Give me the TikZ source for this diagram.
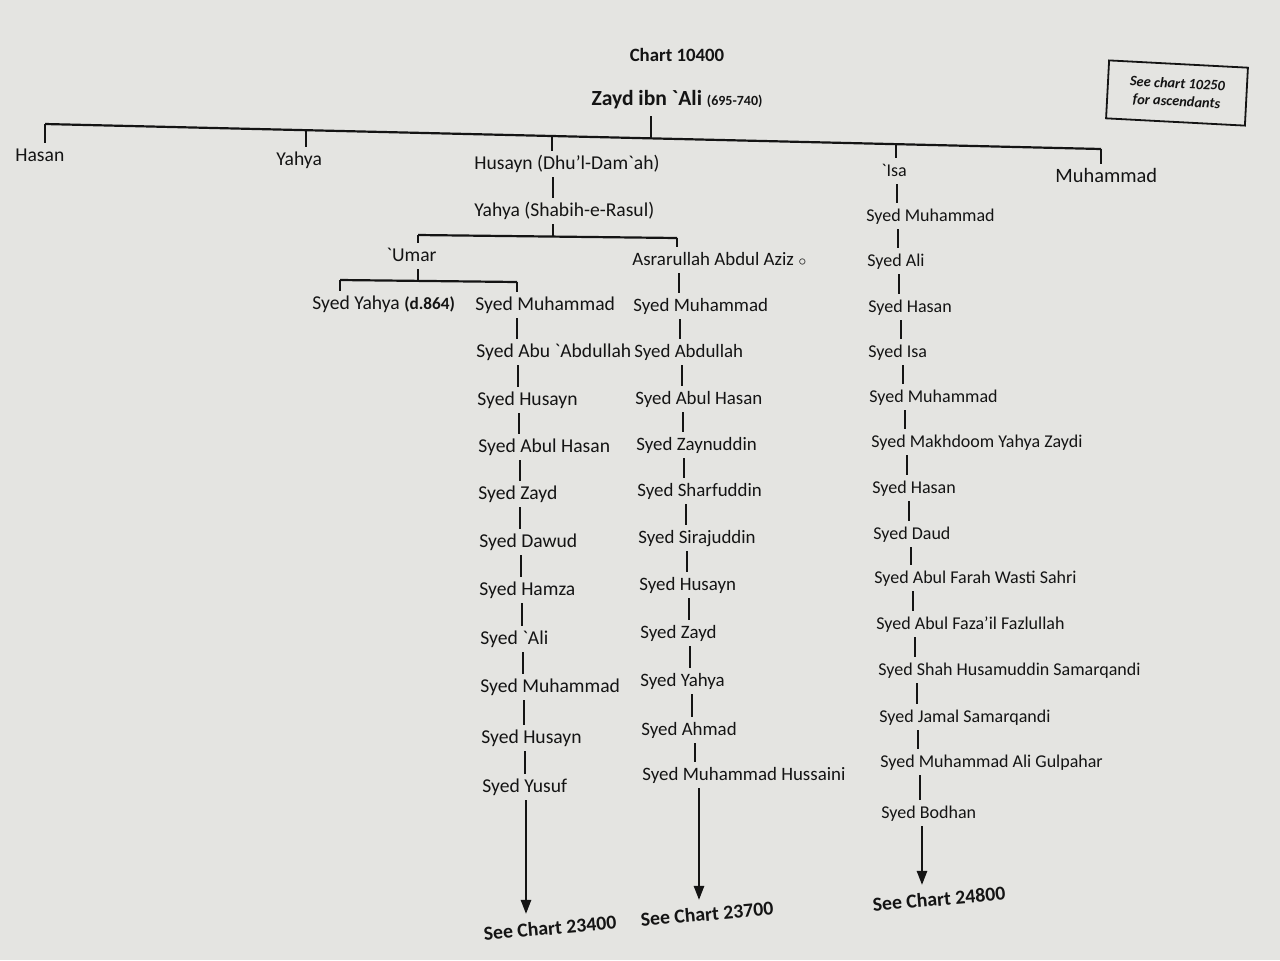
\documentclass[tikz,border=0pt]{standalone}
\usepackage{fontspec}
\newfontfamily\chartfont{Carlito}
\usetikzlibrary{arrows.meta}
\definecolor{ink}{RGB}{20,20,20}
\definecolor{paper}{RGB}{228,228,225}

\begin{document}
\begin{tikzpicture}[x=0.5pt,y=-0.5pt]
	\tikzset{
		every node/.style={text=ink, font=\chartfont\fontsize{9.8}{11}\selectfont},
		person/.style={anchor=west, inner xsep=0pt, inner ysep=2pt, text height=7pt, text depth=2pt},
		midcol/.style={person, font=\chartfont\fontsize{9.45}{11}\selectfont},
		farcol/.style={person, font=\chartfont\fontsize{9}{11}\selectfont},
		bar/.style={ink, line width=1.1pt},
		link/.style={ink, line width=1.2pt},
		goon/.style={ink, line width=1.2pt, -{Triangle[length=7pt,width=5pt]}},
		seechart/.style={font=\chartfont\bfseries\fontsize{9.9}{11}\selectfont, rotate=5},
		note/.style={draw=ink, line width=0.9pt, rotate=-3, align=center, minimum width=69.5pt, minimum height=29pt, font=\chartfont\bfseries\itshape\fontsize{7.2}{9}\selectfont}
	}
	\fill[paper] (0,0) rectangle (1280,960);

	\node[font=\chartfont\bfseries\fontsize{9.4}{11}\selectfont] (chart) at (677,55) {Chart 10400};
	\node[font=\chartfont\bfseries\fontsize{10.8}{12}\selectfont] (zayd) at (677,100) {Zayd ibn `Ali {\fontsize{7}{8}\selectfont(695-740)}};
	\node[note] (ascend) at (1177,93) {See chart 10250\\for ascendants};

	\node[person] (hasan) at (15,156) {Hasan};
	\node[person] (yahya) at (276,160) {Yahya};
	\node[person] (husayn) at (474,164) {Husayn (Dhu’l-Dam`ah)};
	\node[person, font=\chartfont\fontsize{10.2}{11}\selectfont] (muhammad) at (1055,177) {Muhammad};
	\node[person] (shabih) at (474,211) {Yahya (Shabih-e-Rasul)};
	\node[person] (umar) at (386,256) {`Umar};
	\node[person] (syedyahya) at (312,304) {Syed Yahya {\bfseries\fontsize{8.6}{9}\selectfont(d.864)}};

	\foreach \n/\x/\y/\t in {a1/475/305/Syed Muhammad, a2/476/352/Syed Abu `Abdullah,
		a3/477/400/Syed Husayn, a4/478/447/Syed Abul Hasan, a5/478/494/Syed Zayd,
		a6/479/542/Syed Dawud, a7/479/590/Syed Hamza, a8/480/639/Syed `Ali,
		a9/480/687/Syed Muhammad, a10/481/738/Syed Husayn, a11/482/787/Syed Yusuf}
		\node[person] (\n) at (\x,\y) {\t};

	\foreach \n/\x/\y/\t in {b1/632/260/{Asrarullah Abdul Aziz {\scriptsize$\circ$}}, b2/633/306/Syed Muhammad,
		b3/634/352/Syed Abdullah, b4/635/399/Syed Abul Hasan, b5/636/445/Syed Zaynuddin,
		b6/637/491/Syed Sharfuddin, b7/638/538/Syed Sirajuddin, b8/639/585/Syed Husayn,
		b9/640/633/Syed Zayd, b10/640/681/Syed Yahya, b11/641/730/Syed Ahmad,
		b12/642/775/Syed Muhammad Hussaini}
		\node[midcol] (\n) at (\x,\y) {\t};

	\foreach \n/\x/\y/\t in {c1/881/171/`Isa, c2/866/216/Syed Muhammad, c3/867/261/Syed Ali,
		c4/868/307/Syed Hasan, c5/868/352/Syed Isa, c6/869/397/Syed Muhammad,
		c7/871/442/Syed Makhdoom Yahya Zaydi, c8/872/488/Syed Hasan, c9/873/534/Syed Daud,
		c10/874/578/Syed Abul Farah Wasti Sahri, c11/876/624/Syed Abul Faza’il Fazlullah,
		c12/878/670/Syed Shah Husamuddin Samarqandi, c13/879/717/Syed Jamal Samarqandi,
		c14/880/762/Syed Muhammad Ali Gulpahar, c15/881/813/Syed Bodhan}
		\node[farcol] (\n) at (\x,\y) {\t};

	\node[seechart] (seeA) at (550,928) {See Chart 23400};
	\node[seechart] (seeB) at (707,914) {See Chart 23700};
	\node[seechart] (seeC) at (939,899) {See Chart 24800};

	\coordinate (jL) at (45,124);
	\coordinate (jY) at (306,130);
	\coordinate (jH) at (552,136);
	\coordinate (jZ) at (651,138);
	\coordinate (jI) at (896,144);
	\coordinate (jR) at (1101,149);
	\draw[bar] (jL) -- (jR);
	\draw[bar] (zayd.south -| jZ) -- (jZ);
	\draw[bar] (jL) -- (jL |- hasan.north);
	\draw[bar] (jY) -- (jY |- yahya.north);
	\draw[bar] (jH) -- (jH |- husayn.north);
	\draw[bar] (jI) -- (jI |- c1.north);
	\draw[bar] (jR) -- (jR |- muhammad.north);

	\draw[link] (husayn.south -| 553,0) -- (shabih.north -| 553,0);
	\coordinate (kL) at (418,235);
	\coordinate (kS) at (553,237);
	\coordinate (kR) at (677,238);
	\draw[bar] (kL) -- (kR);
	\draw[bar] (shabih.south -| kS) -- (kS);
	\draw[bar] (kL) -- (kL |- umar.north);
	\draw[bar] (kR) -- (kR |- b1.north);

	\coordinate (mL) at (340,280);
	\coordinate (mS) at (418,281);
	\coordinate (mR) at (517,282);
	\draw[bar] (mL) -- (mR);
	\draw[bar] (umar.south -| mS) -- (mS);
	\draw[bar] (mL) -- (mL |- syedyahya.north);
	\draw[bar] (mR) -- (mR |- a1.north);

	\foreach \a/\b/\x in {a1/a2/517, a2/a3/518, a3/a4/519, a4/a5/520, a5/a6/520,
		a6/a7/521, a7/a8/522, a8/a9/523, a9/a10/524, a10/a11/525,
		b1/b2/679, b2/b3/680, b3/b4/682, b4/b5/683, b5/b6/684, b6/b7/686,
		b7/b8/687, b8/b9/689, b9/b10/690, b10/b11/692, b11/b12/695,
		c1/c2/897, c2/c3/898, c3/c4/899, c4/c5/901, c5/c6/903, c6/c7/905,
		c7/c8/907, c8/c9/909, c9/c10/911, c10/c11/913, c11/c12/915,
		c12/c13/917, c13/c14/918, c14/c15/920}
		\draw[link] (\a.south -| \x,0) -- (\b.north -| \x,0);

	\draw[goon] (a11.south -| 526,0) -- (seeA.north -| 526,0);
	\draw[goon] (b12.south -| 699,0) -- (seeB.north -| 699,0);
	\draw[goon] (c15.south -| 922,0) -- (seeC.north -| 922,0);
\end{tikzpicture}
\end{document}
